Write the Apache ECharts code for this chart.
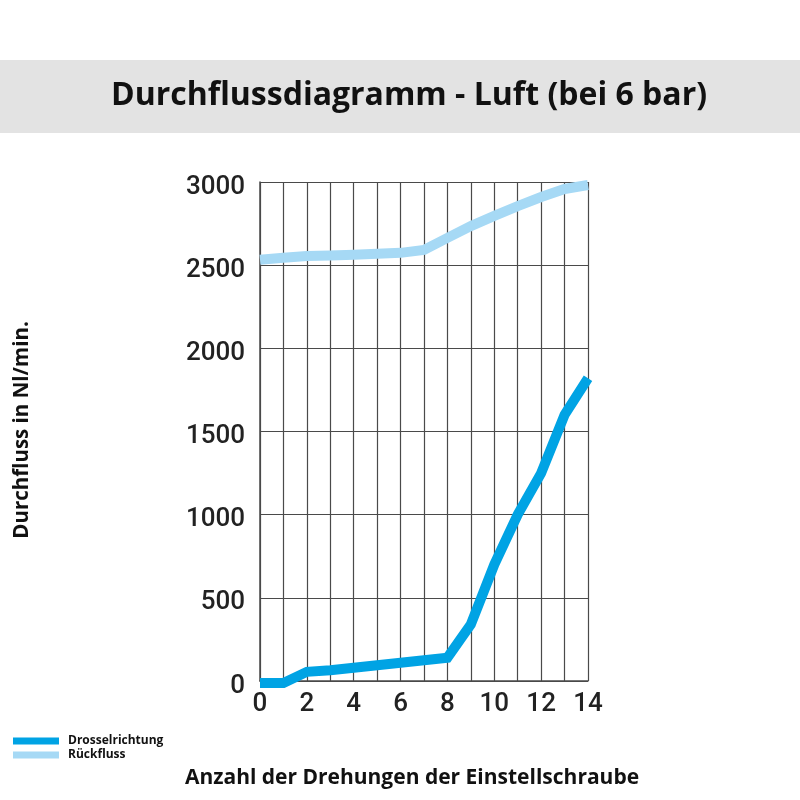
<!DOCTYPE html>
<html><head><meta charset="utf-8">
<script src="https://cdn.jsdelivr.net/npm/echarts@6/dist/echarts.min.js"></script>
<style>html,body{margin:0;padding:0;background:#fff}#c{width:800px;height:800px}</style>
</head><body><div id="c"></div>
<script>
const turns = [0,1,2,3,4,5,6,7,8,9,10,11,12,13,14];
const drosselrichtung = [-12,-12,55,65,80,95,110,125,140,340,700,1000,1250,1600,1820];
const rueckfluss = [2532,2545,2555,2558,2562,2568,2574,2592,2664,2735,2796,2855,2910,2958,2982];
const yTicks = [0,500,1000,1500,2000,2500,3000];
const xTicks = [0,2,4,6,8,10,12,14];

const chart = echarts.init(document.getElementById('c'));
const grid = '#4a4a4a';
chart.setOption({
  animation:false,
  backgroundColor:'#fff',
  graphic:[
    {type:'rect',left:0,top:60,shape:{width:800,height:73},style:{fill:'#e3e3e3'},z:-1},
    {type:'text',x:409,y:96,style:{text:'Durchflussdiagramm - Luft (bei 6 bar)',font:'bold 32px "Open Sans"',fill:'#111',align:'center',verticalAlign:'middle'}},
    {type:'text',x:412,y:778,style:{text:'Anzahl der Drehungen der Einstellschraube',font:'bold 21px "Open Sans"',fill:'#111',align:'center',verticalAlign:'middle'}},
    {type:'text',x:22,y:430,rotation:Math.PI/2,style:{text:'Durchfluss in Nl/min.',font:'bold 20.5px "Open Sans"',fill:'#111',align:'center',verticalAlign:'middle'}}
  ],
  legend:{
    orient:'vertical',left:13,top:734,padding:0,itemWidth:46,itemHeight:7,itemGap:0,icon:'rect',
    textStyle:{fontFamily:'Open Sans',fontWeight:'bold',fontSize:12,lineHeight:14,color:'#111',padding:[0,0,0,4]},
    data:['Drosselrichtung','Rückfluss']
  },
  grid:{left:260,right:212,top:182,bottom:119,containLabel:false},
  xAxis:{
    type:'value',min:0,max:14,interval:1,
    axisLine:{show:true,lineStyle:{color:grid,width:1.5}},
    axisTick:{show:false},
    splitLine:{show:true,lineStyle:{color:grid,width:1.2}},
    axisLabel:{fontFamily:'Roboto',fontWeight:500,fontSize:26,color:'#222',margin:10,
      formatter:v=>xTicks.includes(v)?String(v):''}
  },
  yAxis:{
    type:'value',min:0,max:3000,interval:500,
    axisLine:{show:true,lineStyle:{color:grid,width:1.5}},
    axisTick:{show:false},
    splitLine:{show:true,lineStyle:{color:grid,width:1.2}},
    axisLabel:{margin:15,
      formatter:v=>yTicks.includes(v)?'{a|'+v+'}':'',
      rich:{a:{fontFamily:'Roboto',fontWeight:500,fontSize:26,color:'#222',padding:[10,0,0,0]}}}
  },
  series:[
    {name:'Rückfluss',type:'line',data:turns.map((t,i)=>[t,rueckfluss[i]]),symbol:'none',clip:false,
      lineStyle:{color:'#a6d9f5',width:10,cap:'butt',join:'miter'},itemStyle:{color:'#a6d9f5'}},
    {name:'Drosselrichtung',type:'line',data:turns.map((t,i)=>[t,drosselrichtung[i]]),symbol:'none',clip:false,
      lineStyle:{color:'#00a3e4',width:10,cap:'butt',join:'miter'},itemStyle:{color:'#00a3e4'}}
  ]
});
</script></body></html>
